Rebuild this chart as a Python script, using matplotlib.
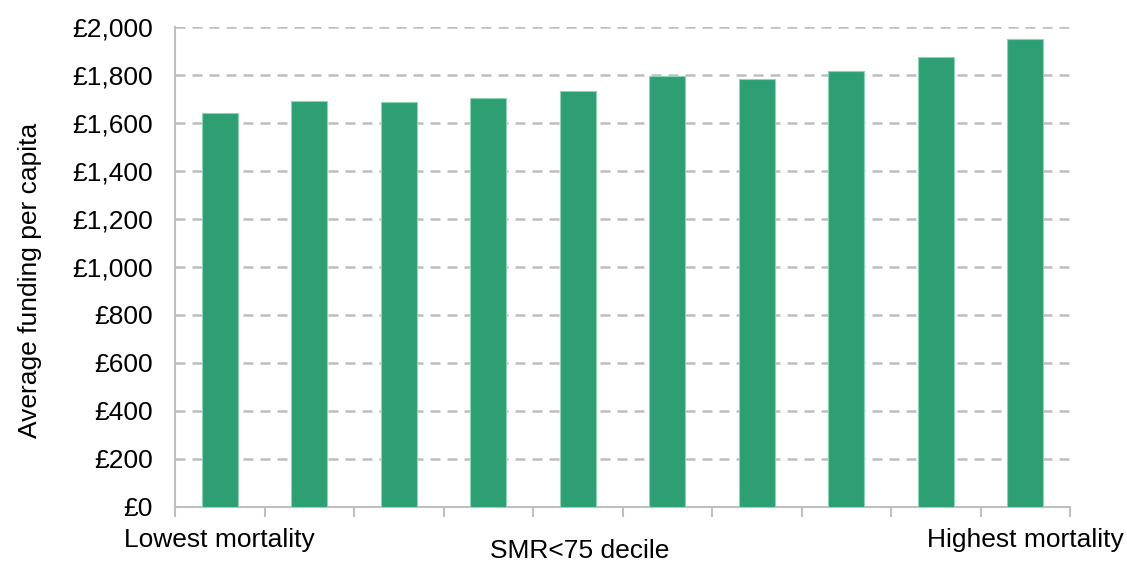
import matplotlib
matplotlib.use("Agg")
import matplotlib.pyplot as plt
import numpy as np

plt.rcParams['font.family'] = ['Liberation Sans', 'DejaVu Sans']

deciles = list(range(1, 11))
funding = [1641, 1691, 1689, 1704, 1734, 1796, 1783, 1815, 1877, 1951]
ytick_vals = list(range(0, 2001, 200))
ytick_labels = ['£{:,}'.format(v) for v in ytick_vals]

fig = plt.figure(figsize=(11.27, 5.62), dpi=100)
ax = fig.add_axes([175/1127, 1-507/562, 895/1127, 480/562])

x = np.arange(len(deciles))
ax.bar(x, funding, width=0.4, color='#2e9e73', edgecolor='#8fd3b6', linewidth=0.8, zorder=3)

ax.set_xlim(-0.5, 9.5)
ax.set_ylim(0, 2000)
ax.set_yticks(ytick_vals)
ax.set_yticklabels(ytick_labels, fontsize=19)
ax.yaxis.grid(True, linestyle=(0, (4, 2.8)), color='#bfbfbf', linewidth=1.8, zorder=0)
ax.tick_params(axis='y', length=0, pad=16)

# tick marks between categories
ax.set_xticks(np.arange(-0.5, 10, 1))
ax.set_xticklabels([])
ax.tick_params(axis='x', length=7, color='#bfbfbf', width=1.5)

for s in ['top', 'right']:
    ax.spines[s].set_visible(False)
ax.spines['left'].set_color('#bfbfbf')
ax.spines['bottom'].set_color('#bfbfbf')
ax.spines['left'].set_linewidth(1.5)
ax.spines['bottom'].set_linewidth(1.5)

ax.text(0, -0.043, 'Lowest mortality', transform=ax.get_xaxis_transform(),
        ha='center', va='top', fontsize=19)
ax.text(9, -0.043, 'Highest mortality', transform=ax.get_xaxis_transform(),
        ha='center', va='top', fontsize=19)
fig.text(580/1127, 1-551/562, 'SMR<75 decile', ha='center', va='center', fontsize=19)
fig.text(30/1127, 1-280/562, 'Average funding per capita', rotation=90,
         ha='center', va='center', fontsize=19)

fig.savefig('out.png', dpi=100)
